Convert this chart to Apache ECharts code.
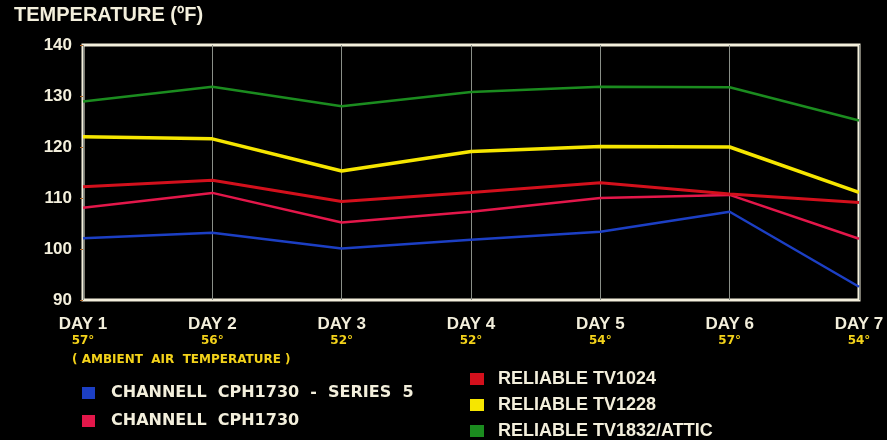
<!DOCTYPE html>
<html>
<head>
<meta charset="utf-8">
<script src="https://cdn.jsdelivr.net/npm/echarts@6/dist/echarts.min.js"></script>
<style>
  html, body { margin: 0; padding: 0; background: #000; }
  #main { width: 887px; height: 440px; }
</style>
</head>
<body>
<div id="main"></div>
<script>
// data
const days = ['DAY 1', 'DAY 2', 'DAY 3', 'DAY 4', 'DAY 5', 'DAY 6', 'DAY 7'];
const ambient = ['57°', '56°', '52°', '52°', '54°', '57°', '54°'];
const yTicks = [90, 100, 110, 120, 130, 140];

const cph1730s5 = [102.1, 103.2, 100.1, 101.8, 103.4, 107.3, 92.6];
const cph1730 = [108.1, 111.0, 105.2, 107.3, 110.0, 110.6, 102.0];
const tv1024 = [112.2, 113.5, 109.3, 111.1, 113.0, 110.8, 109.1];
const tv1228 = [122.0, 121.6, 115.3, 119.1, 120.1, 120.0, 111.1];
const tv1832 = [128.9, 131.8, 128.0, 130.8, 131.8, 131.7, 125.2];

const names = [
  'CHANNELL CPH1730 - SERIES 5',
  'CHANNELL CPH1730',
  'RELIABLE TV1024',
  'RELIABLE TV1228',
  'RELIABLE TV1832/ATTIC'
];
const colors = ['#1c3fc4', '#e3174a', '#d3101c', '#f6e600', '#1b8c1f'];
const widths = [2.5, 2.5, 3, 3.5, 2.5];
const values = [cph1730s5, cph1730, tv1024, tv1228, tv1832];

const cream = '#f3efdc';
const gold = '#f3d21a';
const chart = echarts.init(document.getElementById('main'));

const option = {
  backgroundColor: '#000',
  animation: false,
  grid: {
    left: 83, right: 28, top: 45, bottom: 140,
    show: true,
    borderColor: cream,
    borderWidth: 3,
    backgroundColor: 'transparent'
  },
  xAxis: {
    type: 'category',
    data: days,
    boundaryGap: false,
    axisLine: { show: false },
    axisTick: { show: false },
    splitLine: { show: true, lineStyle: { color: '#8a8f88', width: 1 } },
    axisLabel: {
      margin: 15,
      interval: 0,
      formatter: function (v, i) {
        return '{d|' + v + '}\n{t|' + ambient[i] + '}';
      },
      rich: {
        d: { color: cream, fontFamily: 'Liberation Sans', fontWeight: 'bold', fontSize: 17, lineHeight: 18 },
        t: { color: gold, fontFamily: 'DejaVu Sans', fontWeight: 'bold', fontSize: 12, lineHeight: 16 }
      }
    }
  },
  yAxis: {
    type: 'value',
    min: 90, max: 140, interval: 10,
    axisLine: { show: false },
    axisTick: { show: true, length: 3, lineStyle: { color: '#b06a2a', width: 1 } },
    splitLine: { show: false },
    axisLabel: {
      margin: 11,
      color: cream,
      fontFamily: 'Liberation Sans',
      fontWeight: 'bold',
      fontSize: 17,
      formatter: function (v) { return yTicks.indexOf(v) >= 0 ? String(v) : ''; }
    }
  },
  legend: [
    {
      data: names.slice(0, 2),
      orient: 'vertical',
      left: 82, top: 385, height: 60,
      padding: 0,
      itemWidth: 13, itemHeight: 12,
      itemGap: 12,
      icon: 'rect',
      formatter: function (n) { return '{a|' + n.replace(/ /g, '  ') + '}'; },
      textStyle: {
        color: cream,
        rich: { a: { color: cream, fontFamily: 'DejaVu Sans', fontWeight: 'bold', fontSize: 16, lineHeight: 16, padding: [0, 0, 0, 11] } }
      }
    },
    {
      data: names.slice(2),
      orient: 'vertical',
      left: 470, top: 370, height: 75,
      padding: 0,
      itemWidth: 14, itemHeight: 12,
      itemGap: 8,
      icon: 'rect',
      formatter: function (n) { return '{a|' + n + '}'; },
      textStyle: {
        color: cream,
        rich: { a: { color: cream, fontFamily: 'Liberation Sans', fontWeight: 'bold', fontSize: 18, lineHeight: 16, padding: [0, 0, 0, 9] } }
      }
    }
  ],
  graphic: [
    {
      type: 'text', left: 14, top: 5,
      style: { text: 'TEMPERATURE (ºF)', fill: cream, font: 'bold 20px "Liberation Sans"' }
    },
    {
      type: 'text', left: 72, top: 354,
      style: { text: '( AMBIENT  AIR  TEMPERATURE )', fill: gold, font: 'bold 12px "DejaVu Sans"' }
    }
  ],
  series: names.map(function (n, i) {
    return {
      name: n,
      type: 'line',
      data: values[i],
      symbol: 'none',
      color: colors[i],
      z: 3 + i,
      lineStyle: { color: colors[i], width: widths[i] }
    };
  })
};

chart.setOption(option);
</script>
</body>
</html>
